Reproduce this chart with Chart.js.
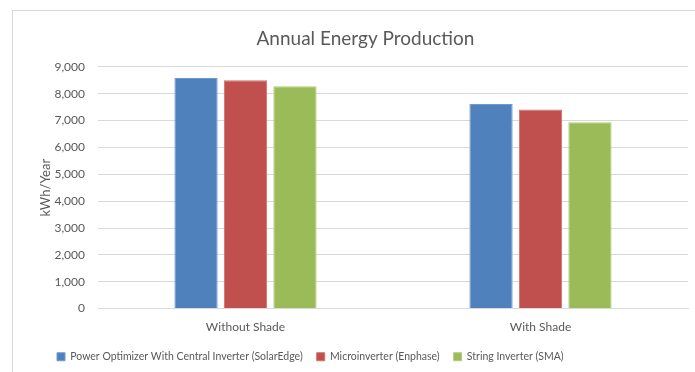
<!DOCTYPE html>
<html><head><meta charset="utf-8">
<script src="https://cdn.jsdelivr.net/npm/chart.js@4"></script>
<style>
html,body{margin:0;padding:0;background:#fff;overflow:hidden;}
#wrap{position:relative;width:695px;height:372px;overflow:hidden;}
#frame{position:absolute;left:12px;top:10px;width:720px;height:420px;border:1px solid #d9d9d9;box-sizing:border-box;}
canvas{position:absolute;left:0;top:0;}
</style></head><body>
<div id="wrap"><div id="frame"></div><canvas id="c" width="695" height="372"></canvas></div>
<script>
const categories = ['Without Shade', 'With Shade'];
const seriesNames = ['Power Optimizer With Central Inverter (SolarEdge)', 'Microinverter (Enphase)', 'String Inverter (SMA)'];
const powerOptimizer = [8580, 7620];
const microinverter = [8500, 7410];
const stringInverter = [8280, 6940];
const yMin = 0, yMax = 9000, yStep = 1000;

Chart.defaults.font.family = 'Lato, "Open Sans", sans-serif';
Chart.defaults.color = '#595959';

const colors = ['#4F81BD', '#C0504D', '#9BBB59'];
const borders = ['#6F9AD0', '#D46E6B', '#B1CD7A'];
const values = [powerOptimizer, microinverter, stringInverter];

new Chart(document.getElementById('c'), {
  type: 'bar',
  data: {
    labels: categories,
    datasets: seriesNames.map((n, i) => ({
      label: n,
      data: values[i],
      backgroundColor: colors[i],
      borderColor: borders[i],
      borderWidth: 1,
      categoryPercentage: 0.503,
      barPercentage: 0.875
    }))
  },
  options: {
    responsive: false,
    animation: false,
    layout: { padding: { left: 43, right: 7, top: 0, bottom: 0 } },
    plugins: {
      title: { display: true, text: 'Annual Energy Production', font: { size: 19, weight: 'normal' }, color: '#595959', padding: { top: 27, bottom: 17 } },
      legend: { position: 'bottom', align: 'start', labels: { boxWidth: 8, boxHeight: 8, padding: 14, font: { size: 10.5 }, color: '#595959' } },
      tooltip: { enabled: false }
    },
    scales: {
      x: {
        grid: { display: false, drawTicks: false },
        border: { color: '#d9d9d9' },
        ticks: { padding: 11, font: { size: 12 } },
        afterFit(s) { s.height = s.height - 7.5; }
      },
      y: {
        min: yMin, max: yMax,
        ticks: { stepSize: yStep, padding: 13, font: { size: 12 }, callback: v => v.toLocaleString('en-US') },
        grid: { color: '#d9d9d9', drawTicks: false },
        border: { display: false },
        title: { display: true, text: 'kWh/Year', font: { size: 13 }, padding: { top: -5, bottom: 0 } },
        afterFit(s) { s.width = 55; }
      }
    }
  }
});
</script>
</body></html>
